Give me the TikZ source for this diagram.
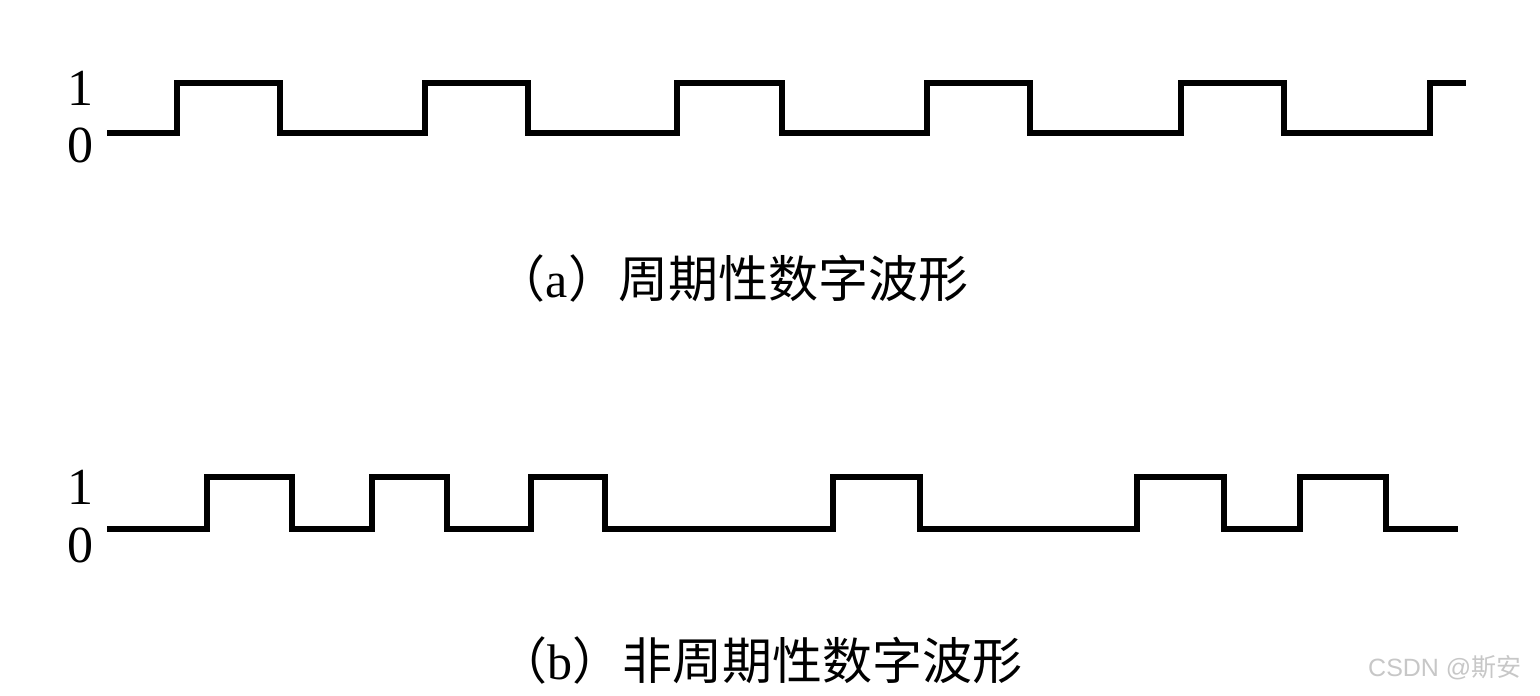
\documentclass[tikz,border=0pt]{standalone}
\usepackage{fontspec}
\setmainfont{Liberation Serif}
\newfontfamily\cjk{Noto Sans CJK SC}
\newfontfamily\wmsans{Liberation Sans}
\begin{document}
\begin{tikzpicture}[x=1pt,y=-1pt,
  wave/.style={line width=5.5pt, line join=miter, line cap=butt},
  lvl/.style={font=\fontsize{52}{52}\selectfont, inner sep=0pt},
  captext/.style={font=\fontsize{50}{50}\selectfont, inner sep=0pt},
  wm/.style={font=\fontsize{25}{25}\selectfont, text=black!22, inner sep=0pt, anchor=west}]
\useasboundingbox (0,0) rectangle (1540,696);
% (a)
\node[lvl] (a1) at (80,88) {1};
\node[lvl] (a0) at (80,145) {0};
\coordinate (as) at (107,133);
\draw[wave] (as) -- (177,133) -- (177,83) -- (280,83) -- (280,133)
  -- (425,133) -- (425,83) -- (528,83) -- (528,133)
  -- (677,133) -- (677,83) -- (782,83) -- (782,133)
  -- (927,133) -- (927,83) -- (1030,83) -- (1030,133)
  -- (1181,133) -- (1181,83) -- (1284,83) -- (1284,133)
  -- (1430,133) -- (1430,83) -- (1466,83);
\node[captext] (capa) at (732,278) {\cjk （\rmfamily a\cjk ）周期性数字波形};
% (b)
\node[lvl] (b1) at (80,487) {1};
\node[lvl] (b0) at (80,545) {0};
\coordinate (bs) at (107,529);
\draw[wave] (bs) -- (207,529) -- (207,477) -- (292,477) -- (292,529)
  -- (372,529) -- (372,477) -- (447,477) -- (447,529)
  -- (531,529) -- (531,477) -- (605,477) -- (605,529)
  -- (833,529) -- (833,477) -- (920,477) -- (920,529)
  -- (1137,529) -- (1137,477) -- (1224,477) -- (1224,529)
  -- (1300,529) -- (1300,477) -- (1386,477) -- (1386,529) -- (1458,529);
\node[captext] (capb) at (760,660) {\cjk （\rmfamily b\cjk ）非周期性数字波形};
% watermark
\node[wm] (wmk) at (1368,668) {\wmsans CSDN @\cjk 斯安};
\end{tikzpicture}
\end{document}
